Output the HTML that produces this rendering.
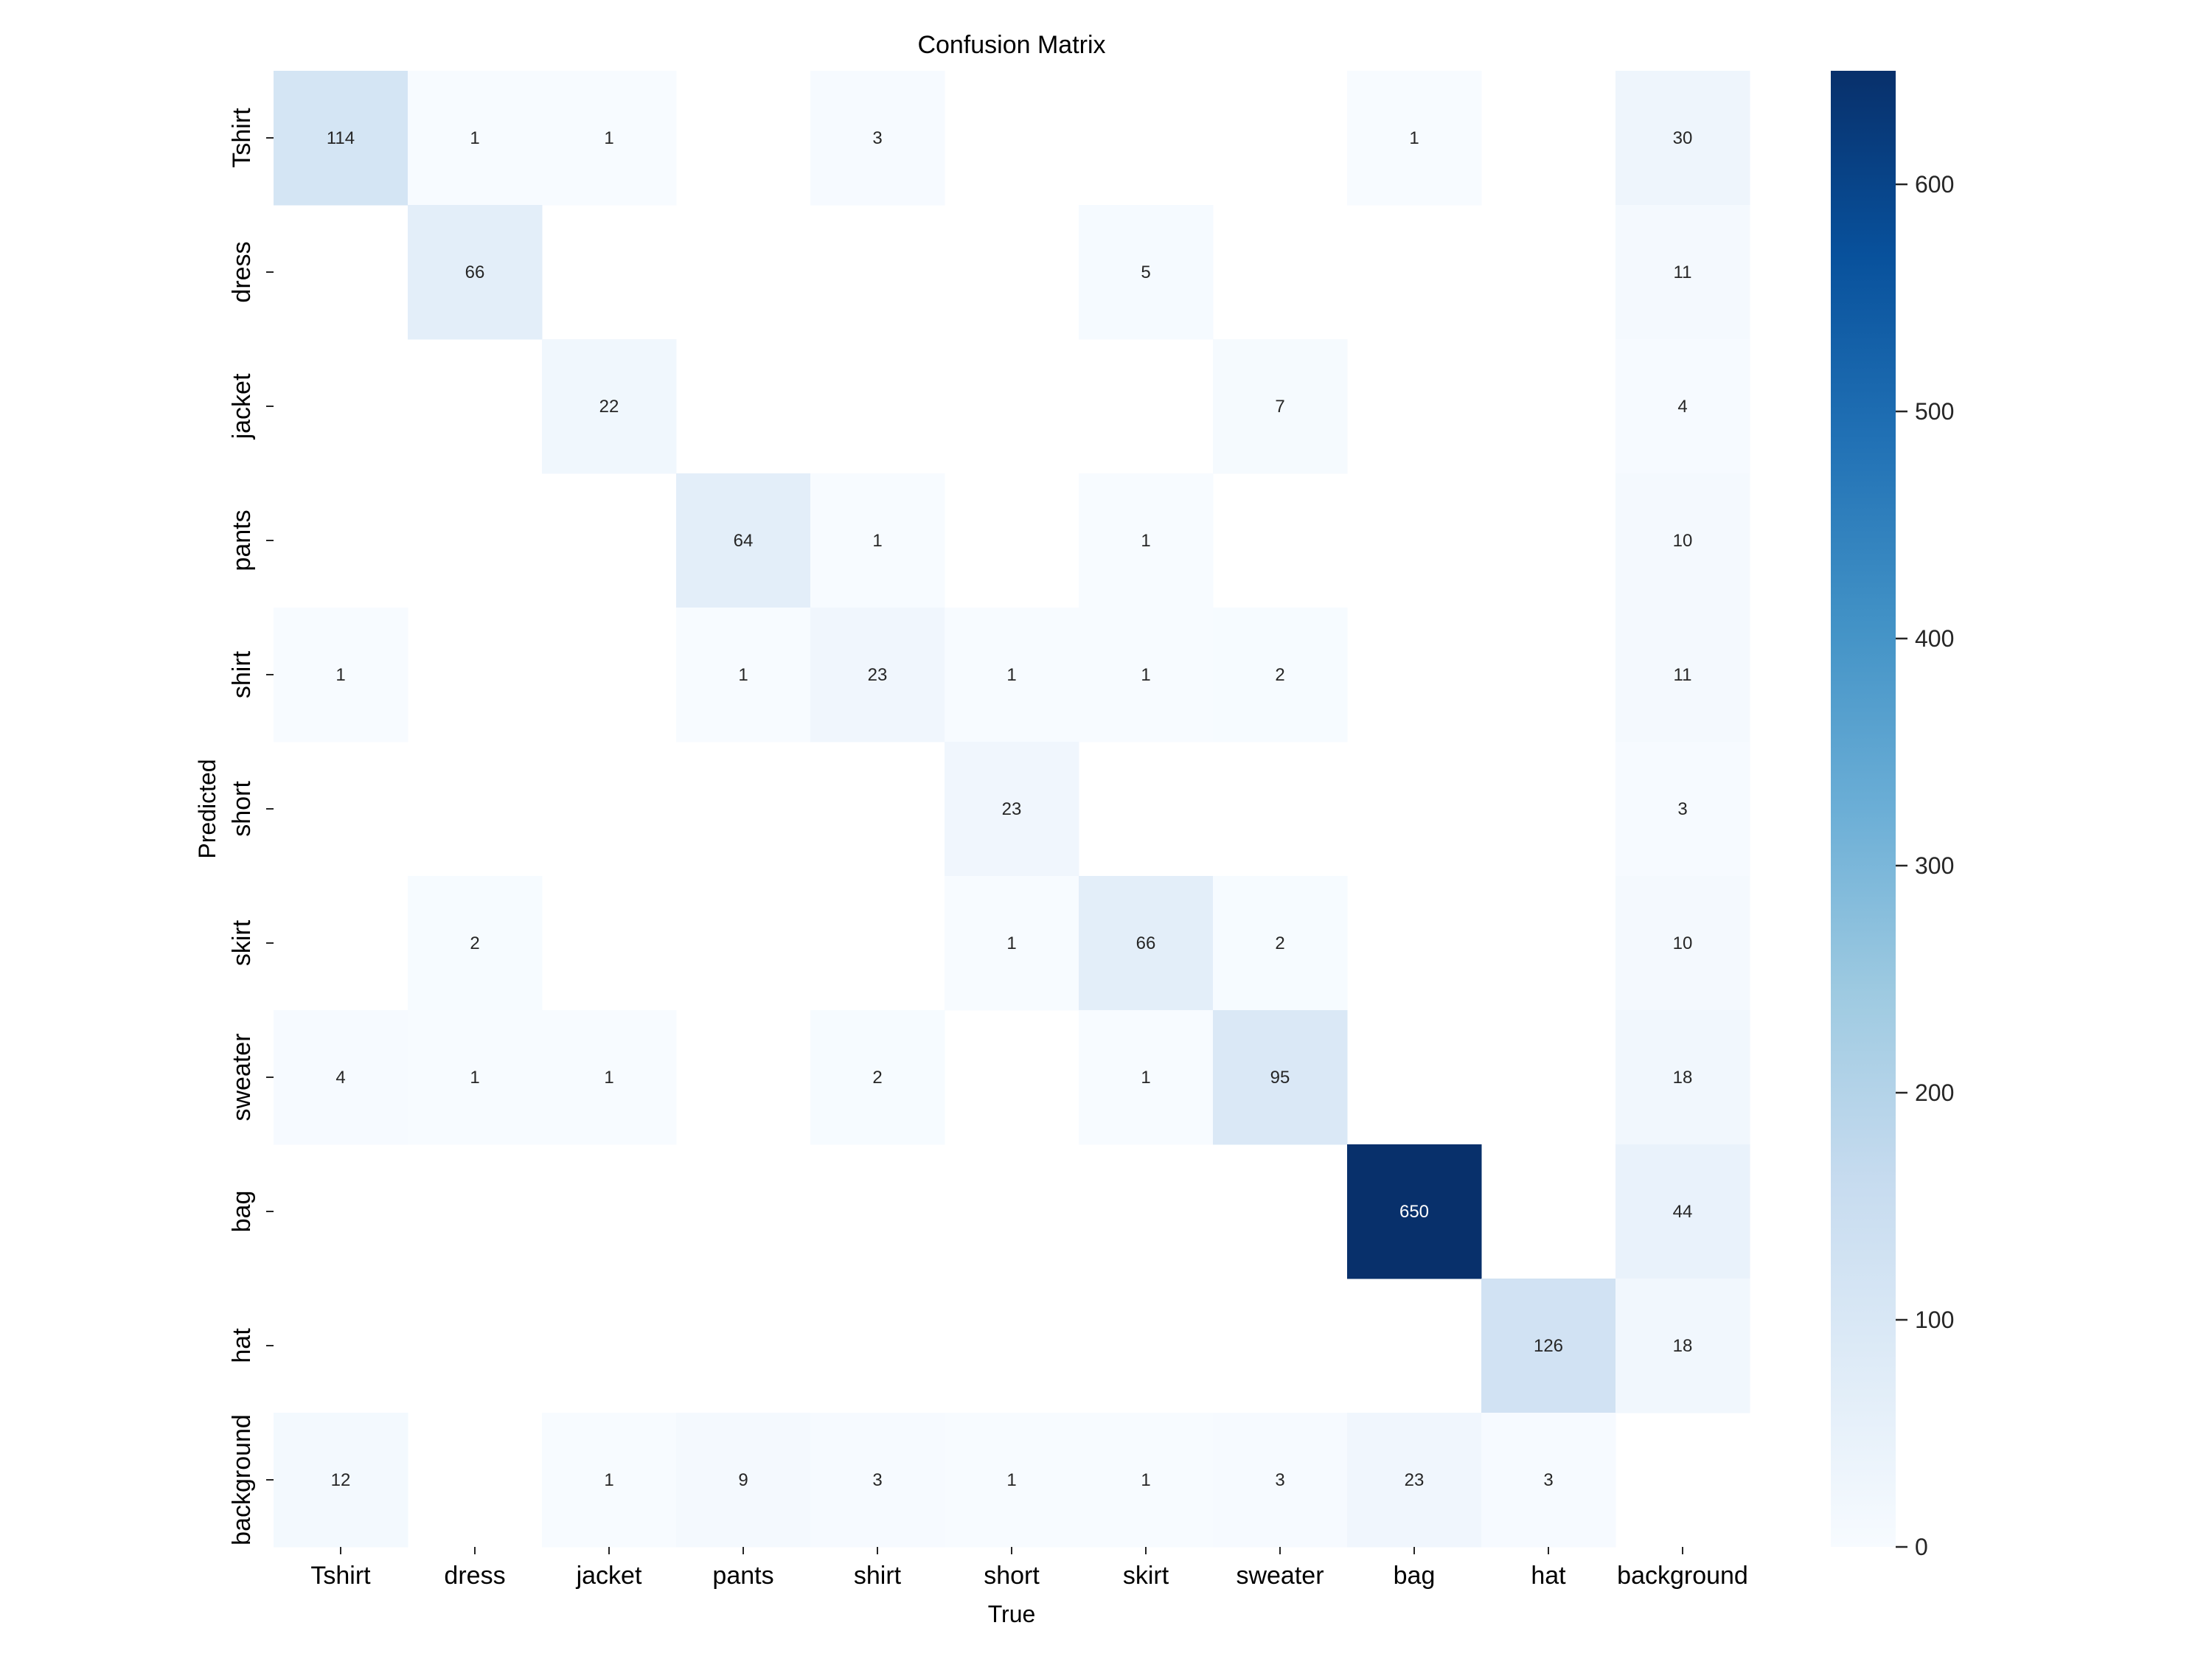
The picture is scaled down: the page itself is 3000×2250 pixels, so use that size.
<!DOCTYPE html>
<html><head><meta charset="utf-8"><style>
body{margin:0;background:#fff;}
svg{display:block;font-family:"Liberation Sans",Arial,sans-serif;}
</style></head><body>
<svg id="s" width="3000" height="2250" xmlns="http://www.w3.org/2000/svg"></svg>
<script>
const labels=["Tshirt","dress","jacket","pants","shirt","short","skirt","sweater","bag","hat","background"];
const M=[
[114,1,1,0,3,0,0,0,1,0,30],
[0,66,0,0,0,0,5,0,0,0,11],
[0,0,22,0,0,0,0,7,0,0,4],
[0,0,0,64,1,0,1,0,0,0,10],
[1,0,0,1,23,1,1,2,0,0,11],
[0,0,0,0,0,23,0,0,0,0,3],
[0,2,0,0,0,1,66,2,0,0,10],
[4,1,1,0,2,0,1,95,0,0,18],
[0,0,0,0,0,0,0,0,650,0,44],
[0,0,0,0,0,0,0,0,0,126,18],
[12,0,1,9,3,1,1,3,23,3,0]];
const stops=["#f7fbff","#deebf7","#c6dbef","#9ecae1","#6baed6","#4292c6","#2171b5","#08519c","#08306b"].map(h=>[1,3,5].map(i=>parseInt(h.substr(i,2),16)));
function col(t){t=Math.max(0,Math.min(1,t));const p=t*8,i=Math.min(7,Math.floor(p)),f=p-i;
const c=stops[i].map((v,k)=>Math.round(v+(stops[i+1][k]-v)*f));return `rgb(${c})`;}
const L=371,T=96,CW=182,CH=182,VMAX=650;
let s='';
s+=`<text x="1372" y="72" font-size="34" text-anchor="middle">Confusion Matrix</text>`;
for(let r=0;r<11;r++)for(let c=0;c<11;c++){const v=M[r][c];if(!v)continue;
const x=L+c*CW,y=T+r*CH;s+=`<rect x="${x}" y="${y}" width="${CW+0.5}" height="${CH+0.5}" fill="${col(v/VMAX)}"/>`;
s+=`<text x="${x+CW/2}" y="${y+CH/2+8}" font-size="24" text-anchor="middle" fill="${v/VMAX>0.5?'#fff':'#262626'}">${v}</text>`;}
for(let i=0;i<11;i++){
const cx=L+i*CW+CW/2,cy=T+i*CH+CH/2;
s+=`<line x1="${cx}" y1="${T+11*CH}" x2="${cx}" y2="${T+11*CH+10}" stroke="#262626" stroke-width="2"/>`;
s+=`<text x="${cx}" y="${T+11*CH+50}" font-size="34" text-anchor="middle">${labels[i]}</text>`;
s+=`<line x1="${L-10}" y1="${cy}" x2="${L}" y2="${cy}" stroke="#262626" stroke-width="2"/>`;
s+=`<text transform="translate(${L-32},${cy}) rotate(-90)" font-size="34" text-anchor="middle">${labels[i]}</text>`;}
s+=`<text x="1372" y="2200" font-size="32" text-anchor="middle">True</text>`;
s+=`<text transform="translate(292,1097) rotate(-90)" font-size="32" text-anchor="middle">Predicted</text>`;
const BX=2483,BW=88,BT=96,BB=2098;
s+=`<defs><linearGradient id="g" x1="0" y1="1" x2="0" y2="0">`;
for(let i=0;i<=8;i++)s+=`<stop offset="${i/8}" stop-color="${col(i/8)}"/>`;
s+=`</linearGradient></defs><rect x="${BX}" y="${BT}" width="${BW}" height="${BB-BT}" fill="url(#g)"/>`;
for(let v=0;v<=600;v+=100){const y=BB-(BB-BT)*v/VMAX;
s+=`<line x1="${BX+BW}" y1="${y}" x2="${BX+BW+16}" y2="${y}" stroke="#262626" stroke-width="2.5"/>`;
s+=`<text x="${BX+BW+26}" y="${y+11}" font-size="32" fill="#262626">${v}</text>`;}
document.getElementById('s').innerHTML=s;
</script>
</body></html>
